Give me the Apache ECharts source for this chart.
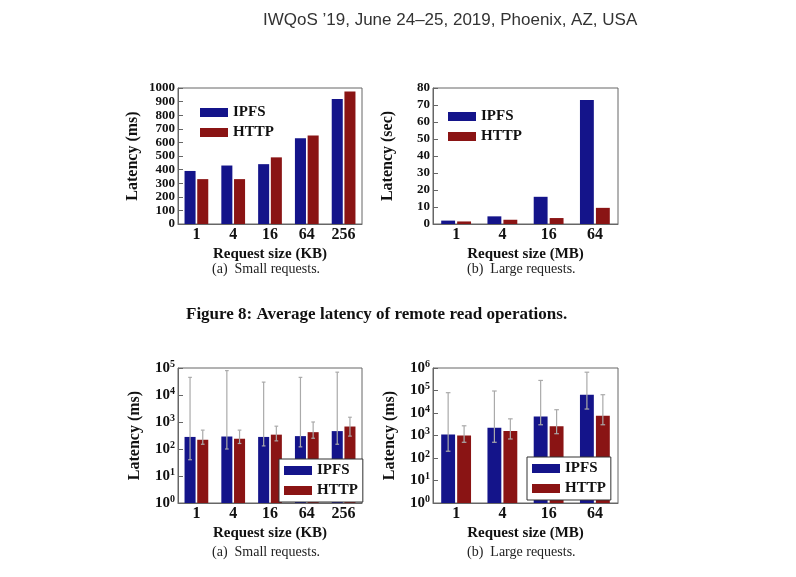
<!DOCTYPE html>
<html><head><meta charset="utf-8">
<script src="https://cdn.jsdelivr.net/npm/echarts@6/dist/echarts.min.js"></script>
<style>html,body{margin:0;background:#fff}#c{width:796px;height:577px}</style>
</head><body><div id="c"></div>
<script>
// data
const kbSizes = ['1', '4', '16', '64', '256'];
const mbSizes = ['1', '4', '16', '64'];
const smallIpfs = [390, 430, 440, 630, 920];
const smallHttp = [330, 330, 490, 650, 975];
const largeIpfs = [2, 4.5, 16, 73];
const largeHttp = [1.5, 2.5, 3.5, 9.5];
// second figure (log scale) with error bars [low, high]
const smallIpfsLog = [280, 290, 280, 300, 460];
const smallHttpLog = [220, 240, 340, 420, 680];
const smallIpfsErr = [[40, 45000], [100, 80000], [130, 30000], [120, 45000], [150, 70000]];
const smallHttpErr = [[150, 500], [160, 500], [200, 700], [250, 1000], [300, 1500]];
const largeIpfsLog = [1100, 2200, 7000, 65000];
const largeHttpLog = [1000, 1600, 2600, 7500];
const largeIpfsErr = [[200, 80000], [500, 95000], [3000, 280000], [15000, 650000]];
const largeHttpErr = [[500, 2700], [700, 5500], [1200, 14000], [3000, 65000]];

const BLUE = '#14148a', RED = '#8a1414';
const SERIF = '"Liberation Serif", "DejaVu Serif", serif';
const chart = echarts.init(document.getElementById('c'));

const grids = [
  { left: 178, top: 88, width: 184, height: 136 },
  { left: 433, top: 88, width: 185, height: 136 },
  { left: 178, top: 368, width: 184, height: 135 },
  { left: 433, top: 368, width: 185, height: 135 }
].map(g => Object.assign(g, { show: true, borderColor: '#666', borderWidth: 1 }));

const axisFont = { fontFamily: SERIF, fontWeight: 'bold', color: '#111' };
function xAxis(i, cats, name) {
  return {
    type: 'category', gridIndex: i, data: cats, name: name, nameLocation: 'middle', nameGap: 23,
    nameTextStyle: Object.assign({ fontSize: 15 }, axisFont),
    axisLabel: Object.assign({ fontSize: 16, margin: 3 }, axisFont),
    axisTick: { show: false }, axisLine: { lineStyle: { color: '#666' } }
  };
}
function linAxis(i, max, interval, name) {
  return {
    type: 'value', gridIndex: i, min: 0, max: max, interval: interval, name: name,
    nameLocation: 'middle', nameGap: 37, nameTextStyle: Object.assign({ fontSize: 16 }, axisFont),
    axisLabel: Object.assign({ fontSize: 13, margin: 3, formatter: v => String(v) }, axisFont),
    splitLine: { show: false }, axisTick: { show: true, inside: true, lineStyle: { color: '#666' } },
    axisLine: { show: true, lineStyle: { color: '#666' } }
  };
}
function logAxis(i, max) {
  return {
    type: 'log', gridIndex: i, min: 1, max: max, logBase: 10, name: 'Latency (ms)',
    nameLocation: 'middle', nameGap: 35, nameTextStyle: Object.assign({ fontSize: 16 }, axisFont),
    axisLabel: Object.assign({
      margin: 3, fontSize: 15,
      formatter: v => '10{s|' + Math.round(Math.log10(v)) + '}',
      rich: { s: Object.assign({ fontSize: 10, verticalAlign: 'top', padding: [0, 0, 8, 0] }, axisFont) }
    }, axisFont),
    splitLine: { show: false }, axisTick: { show: true, inside: true, lineStyle: { color: '#666' } },
    axisLine: { show: true, lineStyle: { color: '#666' } }
  };
}

function bars(i, name, data, color) {
  return { type: 'bar', name: name, xAxisIndex: i, yAxisIndex: i, data: data,
    barWidth: '30%', barGap: '15%', itemStyle: { color: color } };
}
function errBars(i, err, side) {
  return {
    type: 'custom', xAxisIndex: i, yAxisIndex: i, silent: true, z: 5,
    data: err.map((e, k) => [k, e[0], e[1]]),
    renderItem: (params, api) => {
      const band = api.size([1, 0])[0];
      const dx = side * band * 0.1725;
      const lo = api.coord([api.value(0), api.value(1)]);
      const hi = api.coord([api.value(0), api.value(2)]);
      const x = lo[0] + dx, c = band * 0.05;
      const st = { stroke: '#aaa', lineWidth: 1.2 };
      return { type: 'group', children: [
        { type: 'line', shape: { x1: x, y1: lo[1], x2: x, y2: hi[1] }, style: st },
        { type: 'line', shape: { x1: x - c, y1: lo[1], x2: x + c, y2: lo[1] }, style: st },
        { type: 'line', shape: { x1: x - c, y1: hi[1], x2: x + c, y2: hi[1] }, style: st }
      ] };
    }
  };
}

const legText = { fontFamily: SERIF, fontWeight: 'bold', fontSize: 15, color: '#111' };
function legend(extra) {
  return Object.assign({ data: ['IPFS', 'HTTP'], orient: 'vertical', icon: 'rect', itemWidth: 28, itemHeight: 9,
    itemGap: 5, textStyle: legText }, extra);
}

function txt(x, y, s, opt) {
  return { type: 'text', left: x, top: y, style: Object.assign({ text: s, fill: '#222',
    fontFamily: SERIF, fontSize: 14 }, opt || {}) };
}

chart.setOption({
  animation: false,
  grid: grids,
  legend: [
    legend({ left: 195, top: 100 }),
    legend({ left: 443, top: 104 }),
    legend({ left: 279, top: 459, borderColor: '#333', borderWidth: 1, backgroundColor: '#fff', padding: [4, 5], z: 10 }),
    legend({ left: 527, top: 457, borderColor: '#333', borderWidth: 1, backgroundColor: '#fff', padding: [4, 5], z: 10 })
  ],
  xAxis: [
    xAxis(0, kbSizes, 'Request size (KB)'),
    xAxis(1, mbSizes, 'Request size (MB)'),
    xAxis(2, kbSizes, 'Request size (KB)'),
    xAxis(3, mbSizes, 'Request size (MB)')
  ],
  yAxis: [
    linAxis(0, 1000, 100, 'Latency (ms)'),
    linAxis(1, 80, 10, 'Latency (sec)'),
    logAxis(2, 100000),
    logAxis(3, 1000000)
  ],
  series: [
    bars(0, 'IPFS', smallIpfs, BLUE), bars(0, 'HTTP', smallHttp, RED),
    bars(1, 'IPFS', largeIpfs, BLUE), bars(1, 'HTTP', largeHttp, RED),
    bars(2, 'IPFS', smallIpfsLog, BLUE), bars(2, 'HTTP', smallHttpLog, RED),
    bars(3, 'IPFS', largeIpfsLog, BLUE), bars(3, 'HTTP', largeHttpLog, RED),
    errBars(2, smallIpfsErr, -1), errBars(2, smallHttpErr, 1),
    errBars(3, largeIpfsErr, -1), errBars(3, largeHttpErr, 1)
  ],
  graphic: [
    txt(263, 12, 'IWQoS \u201919, June 24\u201325, 2019, Phoenix, AZ, USA', { fontFamily: '"Liberation Sans", sans-serif', fontSize: 17, fill: '#333' }),
    txt(212, 262, '(a)  Small requests.'),
    txt(467, 262, '(b)  Large requests.'),
    txt(186, 306, 'Figure 8: Average latency of remote read operations.', { fontSize: 17, fontWeight: 'bold', fill: '#111' }),
    txt(212, 545, '(a)  Small requests.'),
    txt(467, 545, '(b)  Large requests.')
  ]
});
</script></body></html>
